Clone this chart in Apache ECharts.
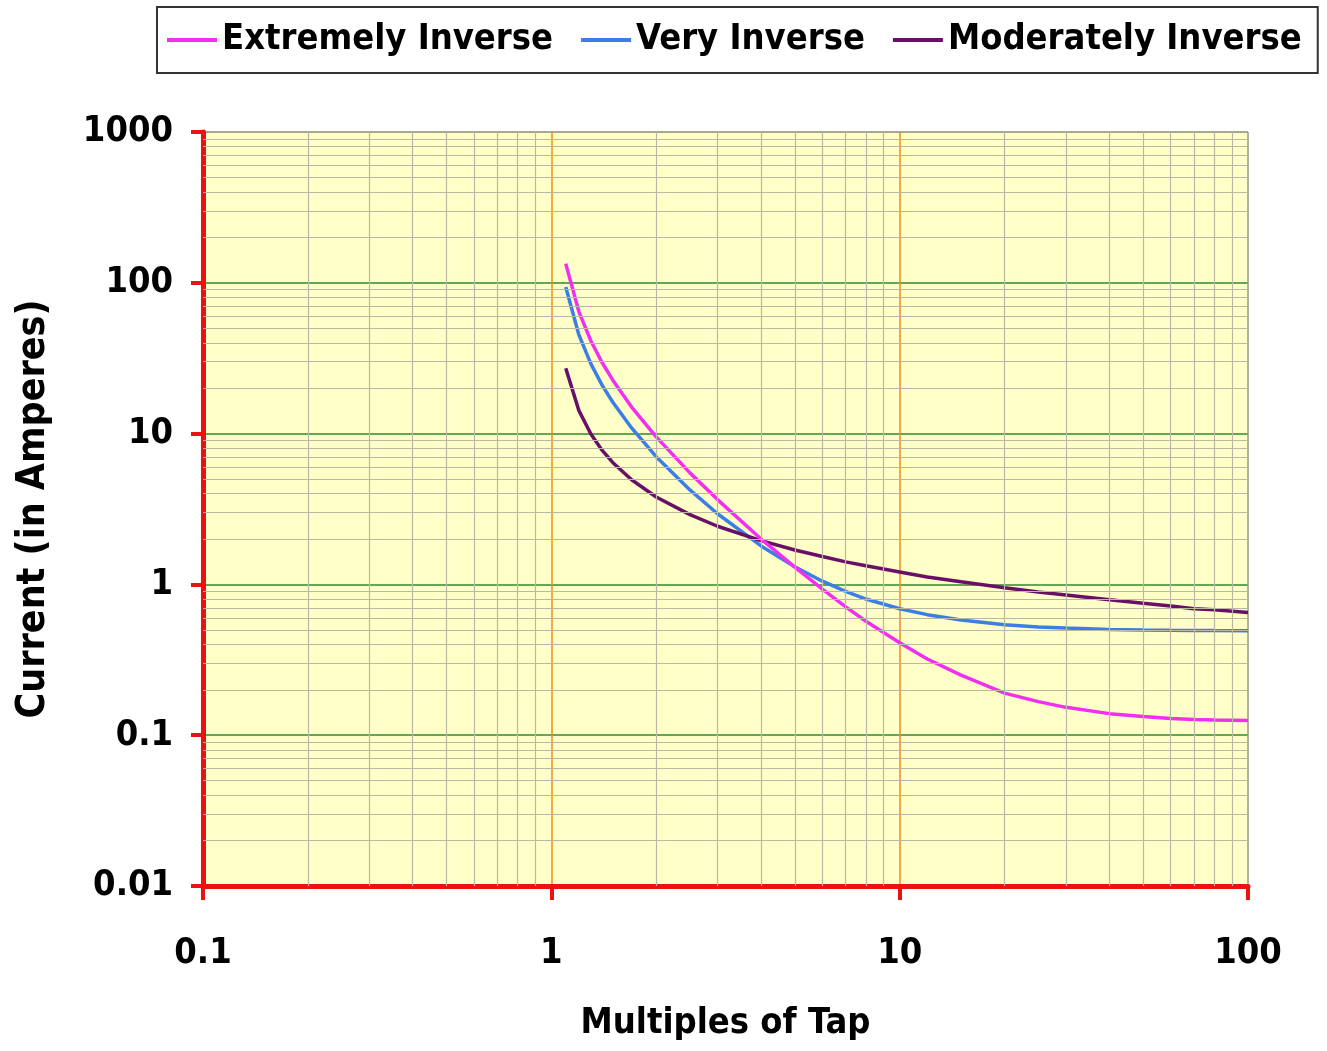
<!DOCTYPE html>
<html>
<head>
<meta charset="utf-8">
<script src="https://cdn.jsdelivr.net/npm/echarts@6/dist/echarts.min.js"></script>
<style>
  html, body { margin: 0; padding: 0; background: #fff; }
  #echarts { width: 1327px; height: 1051px; }
</style>
</head>
<body>
<div id="echarts"></div>
<script>
// multiples of tap (x)
const tapMultiples = [1.1, 1.2, 1.3, 1.4, 1.5, 1.7, 2, 2.5, 3, 4, 5, 6, 7, 8, 10, 12, 15, 20, 25, 30, 40, 50, 60, 70, 80, 100]

// current values
const extremelyInverse = [134, 64.2, 41.0, 29.5, 22.7, 15.0, 9.52, 5.49, 3.65, 2.00, 1.30, 0.93, 0.71, 0.57, 0.41, 0.32, 0.25, 0.19, 0.167, 0.153, 0.139, 0.133, 0.129, 0.127, 0.126, 0.125]
const veryInverse = [93.9, 45.1, 28.9, 20.9, 16.2, 10.9, 7.03, 4.23, 2.94, 1.80, 1.31, 1.05, 0.90, 0.80, 0.69, 0.63, 0.58, 0.54, 0.522, 0.513, 0.503, 0.499, 0.496, 0.495, 0.494, 0.493]
const moderatelyInverse = [27.1, 14.2, 9.90, 7.74, 6.44, 4.94, 3.80, 2.90, 2.43, 1.95, 1.69, 1.53, 1.41, 1.33, 1.21, 1.12, 1.04, 0.95, 0.89, 0.85, 0.79, 0.75, 0.72, 0.69, 0.68, 0.65]

const seriesNames = ['Extremely Inverse', 'Very Inverse', 'Moderately Inverse']
const seriesColors = ['#f22ef0', '#3b7fe6', '#6a0f68']

// axis decades
const xDecades = [0.1, 1, 10]
const yDecades = [0.01, 0.1, 1, 10, 100]
const minorSteps = [2, 3, 4, 5, 6, 7, 8, 9]

const font = '"DejaVu Sans Condensed", "DejaVu Sans", sans-serif'

function pairs(ys) {
  return tapMultiples.map((x, i) => [x, ys[i]])
}

let minorLines = []
xDecades.forEach(d => minorSteps.forEach(s => minorLines.push({xAxis: +(d * s).toPrecision(3)})))
yDecades.forEach(d => minorSteps.forEach(s => minorLines.push({yAxis: +(d * s).toPrecision(3)})))

let myChart = echarts.init(document.getElementById('echarts'))

let option = {
  animation: false,
  legend: {
    data: seriesNames,
    left: 157,
    top: 7,
    width: 1170,
    padding: [15, 16, 15, 10],
    itemGap: 28,
    itemWidth: 50,
    itemHeight: 4,
    icon: 'rect',
    borderColor: '#333',
    borderWidth: 2,
    borderRadius: 0,
    textStyle: {
      fontFamily: font,
      fontWeight: 'bold',
      fontSize: 36,
      color: '#000'
    }
  },
  grid: {
    left: 203,
    top: 132,
    right: 79,
    bottom: 165,
    show: true,
    backgroundColor: '#ffffc8',
    borderWidth: 0
  },
  xAxis: {
    type: 'log',
    logBase: 10,
    min: 0.1,
    max: 100,
    name: 'Multiples of Tap',
    nameLocation: 'middle',
    nameGap: 120,
    nameTextStyle: {fontFamily: font, fontWeight: 'bold', fontSize: 36, color: '#000'},
    axisLine: {show: true, lineStyle: {color: '#ee1111', width: 5}},
    axisTick: {show: true, length: 14, lineStyle: {color: '#ee1111', width: 4}},
    axisLabel: {fontFamily: font, fontWeight: 'bold', fontSize: 36, color: '#000', margin: 50, formatter: v => String(v)},
    splitLine: {show: true, lineStyle: {color: ['#ee8a22', '#ee8a22', '#ee8a22', '#9a9a8a'], width: 1.5}},
    minorTick: {show: false},
    minorSplitLine: {show: false}
  },
  yAxis: {
    type: 'log',
    logBase: 10,
    min: 0.01,
    max: 1000,
    name: 'Current (in Amperes)',
    nameLocation: 'middle',
    nameGap: 150,
    nameTextStyle: {fontFamily: font, fontWeight: 'bold', fontSize: 39, color: '#000'},
    axisLine: {show: true, lineStyle: {color: '#ee1111', width: 5}},
    axisTick: {show: true, length: 12, lineStyle: {color: '#ee1111', width: 4}},
    axisLabel: {fontFamily: font, fontWeight: 'bold', fontSize: 36, color: '#000', margin: 30, formatter: v => String(v)},
    splitLine: {show: true, lineStyle: {color: ['#2e8a2e', '#2e8a2e', '#2e8a2e', '#2e8a2e', '#2e8a2e', '#8a8a7a'], width: 1.5}}
  },
  series: [
    {
      // minor grid lines
      name: 'grid',
      type: 'line',
      z: 1,
      silent: true,
      showSymbol: false,
      lineStyle: {opacity: 0},
      data: [[1, 1]],
      markLine: {
        silent: true,
        symbol: 'none',
        label: {show: false},
        emphasis: {disabled: true},
        lineStyle: {color: '#b8b8a4', width: 1.2, type: 'solid'},
        data: minorLines
      }
    },
    {
      name: seriesNames[0],
      type: 'line',
      z: 4,
      showSymbol: false,
      color: seriesColors[0],
      lineStyle: {width: 3.5},
      data: pairs(extremelyInverse)
    },
    {
      name: seriesNames[1],
      type: 'line',
      z: 3,
      showSymbol: false,
      color: seriesColors[1],
      lineStyle: {width: 3.5},
      data: pairs(veryInverse)
    },
    {
      name: seriesNames[2],
      type: 'line',
      z: 3,
      showSymbol: false,
      color: seriesColors[2],
      lineStyle: {width: 3.5},
      data: pairs(moderatelyInverse)
    }
  ]
}

myChart.setOption(option)
</script>
</body>
</html>
